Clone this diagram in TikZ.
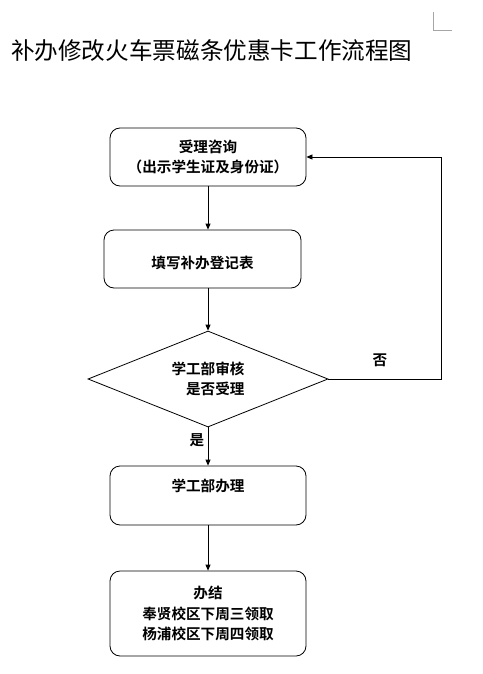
\documentclass[tikz,border=0pt]{standalone}
\usepackage{fontspec}
\setmainfont{Noto Sans CJK SC}[BoldFont={Noto Sans CJK SC Bold}]
\usepackage{tikz}
\usetikzlibrary{arrows.meta,positioning,calc,shapes.geometric}
\tikzset{
  flowbox/.style={
    draw,rounded corners=10pt,align=center,line width=0.8pt,
    minimum width=196pt,minimum height=58pt,inner sep=0pt,
    font=\fontsize{14.6}{20.5}\selectfont\bfseries
  },
  checkbox/.style={
    draw,diamond,aspect=2.5,line width=0.8pt,minimum width=240pt,minimum height=96pt,
    inner sep=0pt,align=right,font=\fontsize{14.6}{20.5}\selectfont\bfseries
  },
  flowarrow/.style={-{Triangle[length=6pt,width=5pt]},line width=0.8pt},
  answer/.style={font=\fontsize{14.6}{16}\selectfont\bfseries,inner sep=0pt}
}

\begin{document}
\begin{tikzpicture}[x=1pt,y=-1pt]
  \useasboundingbox[fill=white] (0,0) rectangle (482,674);
  % page corner mark
  \draw[black!35,line width=0.6pt] (433,12) -- (433,30) -- (452,30);
  \node[anchor=west,font=\fontsize{23.6}{25}\selectfont,inner sep=0pt] (title) at (11,51)
    {补办修改火车票磁条优惠卡工作流程图};

  \node[flowbox] (consult) at (208,157) {受理咨询\\（出示学生证及身份证）};
  \node[flowbox,minimum width=197pt] (form) at (202.5,259) {\mbox{}\\填写补办登记表};
  \node[checkbox] (check) at (208,379) {学工部审核\\是否受理};
  \node[flowbox,minimum height=59pt] (handle) at (208,495.5) {学工部办理\\\mbox{}};
  \node[flowbox,minimum height=85pt] (done) at (208,613.5)
    {办结\\奉贤校区下周三领取\\杨浦校区下周四领取};

  \coordinate (back1) at (441,379);
  \coordinate (back2) at (441,157);

  \draw[flowarrow] (consult.south) -- (consult.south |- form.north);
  \draw[flowarrow] (form.south -| check.north) -- (check.north);
  \draw[flowarrow] (check.south) -- (handle.north);
  \draw[flowarrow] (handle.south) -- (done.north);
  \draw[flowarrow] (check.east) -- (back1) -- (back2) -- (consult.east);

  \node[answer] (no) at (380,360) {否};
  \node[answer] (yes) at (197,440) {是};
\end{tikzpicture}
\end{document}
